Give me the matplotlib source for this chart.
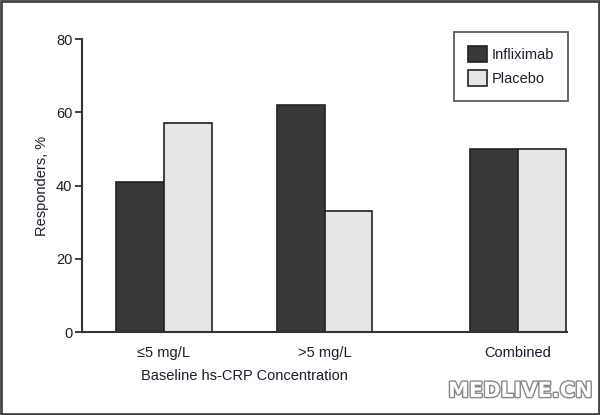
import matplotlib.pyplot as plt
import matplotlib.patheffects as pe
from matplotlib.patches import Rectangle

categories = ["\u22645 mg/L", ">5 mg/L", "Combined"]
infliximab = [41, 62, 50]
placebo = [57, 33, 50]
series_labels = ["Infliximab", "Placebo"]

plt.rcParams['font.family'] = ['Liberation Sans Narrow', 'Liberation Sans', 'DejaVu Sans']
txt = '#1c1c2c'

fig = plt.figure(figsize=(6, 4.15), dpi=100)
ax = fig.add_axes([0.1367, 0.2, 0.8083, 0.706])

centers = [1.71, 5.06, 9.1]
w = 1.0
ax.bar([c - w / 2 for c in centers], infliximab, width=w, color='#383838',
       edgecolor='#222222', linewidth=1.2, label=series_labels[0])
ax.bar([c + w / 2 for c in centers], placebo, width=w, color='#e6e6e6',
       edgecolor='#222222', linewidth=1.2, label=series_labels[1])

ax.set_xlim(0, 10.12)
ax.set_ylim(0, 80)
ax.set_yticks([0, 20, 40, 60, 80])
ax.set_xticks(centers)
ax.set_xticklabels(categories)
ax.tick_params(axis='x', length=0, pad=10, labelsize=10.5, labelcolor=txt)
ax.tick_params(axis='y', length=5, width=1.3, color='#333333', labelsize=10.5,
               labelcolor=txt, pad=2)
for s in ['top', 'right']:
    ax.spines[s].set_visible(False)
for s in ['left', 'bottom']:
    ax.spines[s].set_color('#333333')
    ax.spines[s].set_linewidth(1.5)

ax.set_ylabel("Responders, %", fontsize=10.5, color=txt, labelpad=5)
fig.text(0.408, 0.095, "Baseline hs-CRP Concentration", ha='center', va='center',
         fontsize=10.5, color=txt)

leg = ax.legend(loc='upper right', bbox_to_anchor=(1.003, 1.025), fontsize=10.5,
                fancybox=False, edgecolor='#333333', borderpad=1.0,
                handlelength=1.3, handleheight=1.3, handletextpad=0.3,
                labelspacing=0.55, borderaxespad=0)
leg.get_frame().set_linewidth(1.3)
for t in leg.get_texts():
    t.set_color(txt)

fig.text(0.867, 0.058, "MEDLIVE.CN", ha='center', va='center', fontsize=15,
         family='DejaVu Sans', color='white', fontweight='bold',
         path_effects=[pe.withStroke(linewidth=2, foreground='#888888')])

fig.patches.append(Rectangle((0.002, 0.002), 0.996, 0.996, transform=fig.transFigure,
                             fill=False, edgecolor='#444444', linewidth=2))

fig.savefig("out.png", dpi=100)
